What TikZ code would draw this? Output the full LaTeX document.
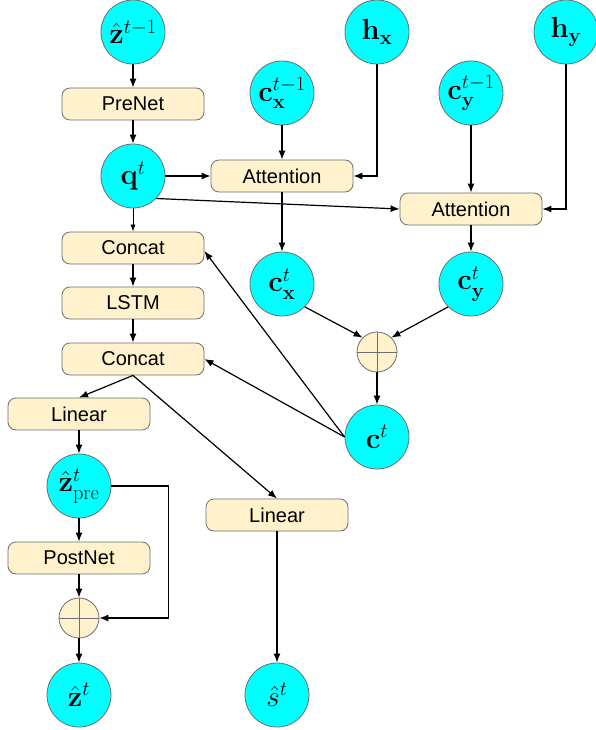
\RequirePackage{fix-cm}
\documentclass[tikz,border=0pt]{standalone}
\usepackage[no-math]{fontspec}
\newfontfamily\boxfont{Liberation Sans}
\usetikzlibrary{arrows.meta}
\definecolor{boxfill}{RGB}{255,242,204}
\definecolor{edgegray}{RGB}{110,110,110}
\definecolor{cnfill}{RGB}{0,255,255}
\begin{document}
\begin{tikzpicture}[x=1pt,y=-1pt,
  cnode/.style={circle, draw=edgegray, fill=cnfill, minimum size=64pt, inner sep=0pt, line width=0.8pt, font=\fontsize{29}{31}\selectfont},
  bnode/.style={rounded corners=8pt, draw=edgegray, fill=boxfill, minimum width=142pt, minimum height=32pt, inner sep=0pt, line width=0.8pt, font=\boxfont\fontsize{20}{23}\selectfont},
  pnode/.style={circle, draw=edgegray, fill=boxfill, minimum size=40pt, inner sep=0pt, line width=0.8pt},
  arr/.style={-{Latex[length=9pt,width=7pt]}, line width=1.2pt},
  thinarr/.style={-{Latex[length=7pt,width=5pt]}, line width=0.7pt},
  cross/.style={draw=edgegray, line width=0.8pt}]
\useasboundingbox (0,0) rectangle (595,730);

% left column
\node[cnode] (zprev) at (133,32) {$\hat{\mathbf{z}}^{t-1}$};
\node[bnode] (prenet) at (133,104) {PreNet};
\node[cnode] (q) at (133,176) {$\mathbf{q}^{t}$};
\node[bnode] (concat1) at (133,248) {Concat};
\node[bnode] (lstm) at (133,303) {LSTM};
\node[bnode] (concat2) at (133,359) {Concat};
\node[bnode] (lin1) at (79,414) {Linear};
\node[cnode] (zpre) at (79,486) {$\hat{\mathbf{z}}^{t}_{\mathrm{pre}}$};
\node[bnode] (postnet) at (79,558) {PostNet};
\node[pnode] (p2) at (79,618) {};
\node[cnode] (zt) at (79,695) {$\hat{\mathbf{z}}^{t}$};
\node[bnode] (lin2) at (277,515) {Linear};
\node[cnode] (st) at (277,695) {$\hat{s}^{t}$};

% right part
\node[cnode] (cx1) at (282,93) {$\mathbf{c}_{\mathbf{x}}^{t-1}$};
\node[cnode] (hx) at (377,32) {$\mathbf{h}_{\mathbf{x}}$};
\node[cnode] (cy1) at (471,93) {$\mathbf{c}_{\mathbf{y}}^{t-1}$};
\node[cnode] (hy) at (566,32) {$\mathbf{h}_{\mathbf{y}}$};
\node[bnode] (att1) at (282,176) {Attention};
\node[bnode] (att2) at (471,209) {Attention};
\node[cnode] (cxt) at (282,284) {$\mathbf{c}_{\mathbf{x}}^{t}$};
\node[cnode] (cyt) at (471,284) {$\mathbf{c}_{\mathbf{y}}^{t}$};
\node[pnode] (p1) at (377,352) {};
\node[cnode] (ct) at (377,437) {$\mathbf{c}^{t}$};

\draw[cross] (p1.north) -- (p1.south) (p1.west) -- (p1.east);
\draw[cross] (p2.north) -- (p2.south) (p2.west) -- (p2.east);

% connectors
\draw[arr] (zprev) -- (prenet);
\draw[arr] (prenet) -- (q);
\draw[arr] (q) -- (att1);
\draw[arr] (q.-44) -- (att2.west);
\draw[thinarr] (q) -- (concat1);
\draw[arr] (cx1) -- (att1);
\draw[arr] (hx.south) |- (att1.east);
\draw[arr] (cy1) -- (att2);
\draw[arr] (hy.south) |- (att2.east);
\draw[arr] (att1) -- (cxt);
\draw[arr] (att2) -- (cyt);
\draw[arr] (cxt.-45) -- (p1.135);
\draw[arr] (cyt.-135) -- (p1.45);
\draw[arr] (p1) -- (ct);
\draw[arr] (ct.west) -- ([yshift=-3pt]concat1.east);
\draw[arr] (ct.west) -- (concat2.east);
\draw[arr] (concat1) -- (lstm);
\draw[arr] (lstm) -- (concat2);
\draw[arr] (concat2.south) -- (lin1.north);
\draw[arr] (concat2.south) -- (lin2.north);
\draw[arr] (lin1) -- (zpre);
\draw[arr] (zpre) -- (postnet);
\draw[arr] (postnet) -- (p2);
\draw[arr] (zpre.east) -- ++(57,0) |- (p2.east);
\draw[arr] (p2) -- (zt);
\draw[arr] (lin2) -- (st);
\end{tikzpicture}
\end{document}
